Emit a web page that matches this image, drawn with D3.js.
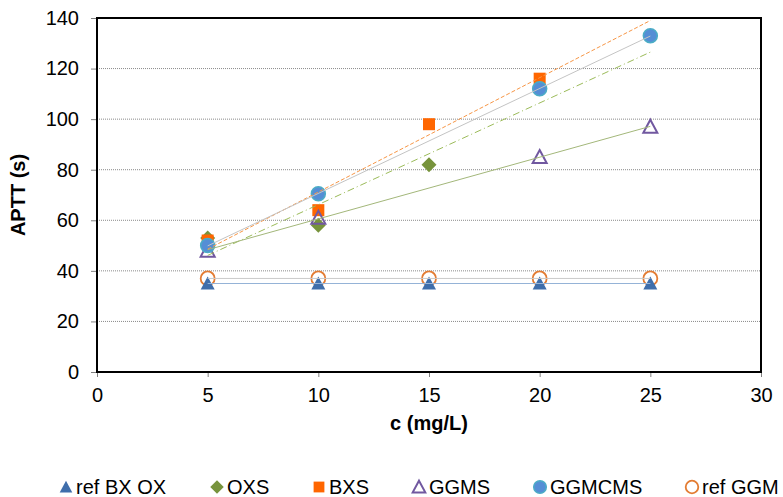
<!DOCTYPE html>
<html>
<head>
<meta charset="utf-8">
<script src="https://cdn.jsdelivr.net/npm/d3@7"></script>
<style>
  body { margin: 0; background: #fff; }
  svg { font-family: "Liberation Sans", Arial, sans-serif; }
</style>
</head>
<body>
<div id="chart"></div>
<script>
// concentrations (mg/L)
const conc = [5, 10, 15, 20, 25];
// APTT (s) per sample, null = no measurement
const refBXOX = [35, 35, 35, 35, 35];
const oxs = [53, 58, 82, 112, null];
const bxs = [52, 64, 98, 116, null];
const ggms = [48, 61, null, 85, 97];
const ggmcms = [50, 70.5, null, 112, 133];
const refGGM = [37, 37, 37, 37, 37];
const xTicks = [0, 5, 10, 15, 20, 25, 30];
const yTicks = [0, 20, 40, 60, 80, 100, 120, 140];

const width = 783, height = 497;
const margin = { top: 18, right: 22, bottom: 125, left: 97 };
const innerW = width - margin.left - margin.right;
const innerH = height - margin.top - margin.bottom;

const svg = d3.select('#chart').append('svg')
  .attr('width', width)
  .attr('height', height);

const g = svg.append('g')
  .attr('transform', `translate(${margin.left}, ${margin.top})`);

const x = d3.scaleLinear().domain([0, 30]).range([0, innerW]);
const y = d3.scaleLinear().domain([0, 140]).range([innerH, 0]);

// gridlines
g.append('g')
  .selectAll('line')
  .data(yTicks.filter(d => d > 0 && d < 140))
  .enter()
  .append('line')
  .attr('x1', 0).attr('x2', innerW)
  .attr('y1', d => y(d)).attr('y2', d => y(d))
  .attr('stroke', '#8a8a8a')
  .attr('stroke-width', 1)
  .attr('stroke-dasharray', '1,1');

// axes
const yAxis = g.append('g')
  .call(d3.axisLeft(y).tickValues(yTicks).tickSize(6).tickPadding(12));
const xAxis = g.append('g')
  .attr('transform', `translate(0, ${innerH})`)
  .call(d3.axisBottom(x).tickValues(xTicks).tickSize(5).tickPadding(11));
[xAxis, yAxis].forEach(a => {
  a.select('.domain').remove();
  a.selectAll('.tick line').attr('stroke', '#808080');
  a.selectAll('text').attr('font-size', 20).attr('fill', '#000')
    .attr('font-family', '"Liberation Sans", Arial, sans-serif');
});

const series = [
  { name: 'ref GGM', values: refGGM, shape: 'ocircle', trend: { color: '#cacaca', dash: null } },
  { name: 'ref BX OX', values: refBXOX, shape: 'triangle', trend: { color: '#95b3d7', dash: null } },
  { name: 'OXS', values: oxs, shape: 'diamond', trend: { color: '#9bbb59', dash: '7,3,1,3' } },
  { name: 'BXS', values: bxs, shape: 'square', trend: { color: '#f79646', dash: '4,2' } },
  { name: 'GGMS', values: ggms, shape: 'otriangle', trend: { color: '#a3b77a', dash: null } },
  { name: 'GGMCMS', values: ggmcms, shape: 'circle', trend: { color: '#c4c4c4', dash: null } }
];

function drawMarker(sel, shape, s) {
  s = s || 1;
  switch (shape) {
    case 'triangle':
      sel.append('path').attr('d', `M0,${-7 * s} L${7 * s},${6 * s} L${-7 * s},${6 * s} Z`)
        .attr('fill', '#3f6eab');
      break;
    case 'otriangle':
      sel.append('path').attr('d', `M0,${-7 * s} L${7 * s},${6 * s} L${-7 * s},${6 * s} Z`)
        .attr('fill', 'none').attr('stroke', '#7158a0').attr('stroke-width', 2);
      break;
    case 'diamond':
      sel.append('path').attr('d', `M0,${-7.5 * s} L${7.5 * s},0 L0,${7.5 * s} L${-7.5 * s},0 Z`)
        .attr('fill', '#77933c');
      break;
    case 'square':
      sel.append('rect').attr('x', -6 * s).attr('y', -6 * s)
        .attr('width', 12 * s).attr('height', 12 * s)
        .attr('fill', '#ff6600');
      break;
    case 'circle':
      sel.append('circle').attr('r', 7 * s)
        .attr('fill', '#558ed5').attr('stroke', '#4bacc6').attr('stroke-width', 1.5);
      break;
    case 'ocircle':
      sel.append('circle').attr('r', 7 * s)
        .attr('fill', 'none').attr('stroke', '#e37c33').attr('stroke-width', 1.8);
      break;
    default:
      break;
  }
}

// markers
series.forEach(sr => {
  const pts = conc.map((c, i) => ({ c: c, v: sr.values[i] })).filter(d => d.v !== null);
  g.append('g').selectAll('g')
    .data(pts)
    .enter()
    .append('g')
    .attr('transform', d => `translate(${x(d.c)}, ${y(d.v)})`)
    .each(function () { drawMarker(d3.select(this), sr.shape); });
});

// linear trendlines over 5..25
function linFit(pts) {
  const mx = d3.mean(pts, d => d.c), my = d3.mean(pts, d => d.v);
  const sxy = d3.sum(pts, d => (d.c - mx) * (d.v - my));
  const sxx = d3.sum(pts, d => (d.c - mx) * (d.c - mx));
  const b = sxx ? sxy / sxx : 0;
  return c => my + b * (c - mx);
}
const trendX = d3.extent(conc);
series.forEach(sr => {
  const pts = conc.map((c, i) => ({ c: c, v: sr.values[i] })).filter(d => d.v !== null);
  const f = linFit(pts);
  g.append('line')
    .attr('x1', x(trendX[0])).attr('y1', y(f(trendX[0])))
    .attr('x2', x(trendX[1])).attr('y2', y(f(trendX[1])))
    .attr('stroke', sr.trend.color)
    .attr('stroke-width', 1)
    .attr('stroke-dasharray', sr.trend.dash);
});

// frame
g.append('rect')
  .attr('width', innerW).attr('height', innerH)
  .attr('fill', 'none').attr('stroke', '#000').attr('stroke-width', 2);

// axis titles
svg.append('text')
  .attr('x', margin.left + innerW / 2).attr('y', 430)
  .attr('text-anchor', 'middle')
  .attr('font-size', 20).attr('font-weight', 'bold')
  .text('c (mg/L)');
svg.append('text')
  .attr('transform', `translate(25, ${margin.top + innerH / 2}) rotate(-90)`)
  .attr('text-anchor', 'middle')
  .attr('font-size', 20).attr('font-weight', 'bold')
  .text('APTT (s)');

// legend
const legendOrder = ['ref BX OX', 'OXS', 'BXS', 'GGMS', 'GGMCMS', 'ref GGM'];
const legendX = [66, 217, 319, 419, 540, 692];
const legend = svg.append('g').attr('transform', 'translate(0, 487)');
legendOrder.forEach((name, i) => {
  const sr = series.find(s => s.name === name);
  const item = legend.append('g').attr('transform', `translate(${legendX[i]}, 0)`);
  item.append('g').call(sel => drawMarker(sel, sr.shape, 0.9));
  item.append('text')
    .attr('x', sr.shape === 'ocircle' ? 10 : 10)
    .attr('y', 7)
    .attr('font-size', 20)
    .text(name);
});
</script>
</body>
</html>
